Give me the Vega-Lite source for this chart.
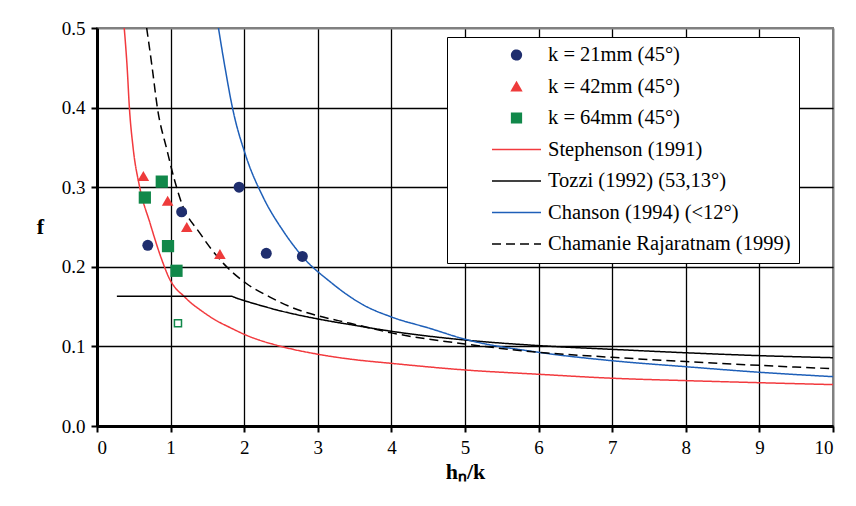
{
  "$schema": "https://vega.github.io/schema/vega-lite/v6.json",
  "width": 736,
  "height": 398,
  "autosize": {"type": "none"},
  "padding": {"left": 97, "top": 28, "right": 23, "bottom": 80},
  "background": "white",
  "config": {
    "font": "Liberation Serif",
    "view": {"stroke": "#808080", "strokeWidth": 2},
    "axis": {
      "labelFont": "Liberation Serif",
      "labelFontSize": 19,
      "labelColor": "black",
      "titleFont": "Liberation Serif",
      "titleColor": "black",
      "titleFontWeight": "bold",
      "titleFontSize": 22,
      "domainColor": "black",
      "domainWidth": 3,
      "tickColor": "black",
      "tickWidth": 2,
      "tickSize": 6,
      "gridWidth": 1.3,
      "gridOpacity": 1
    }
  },
  "data": {
    "values": [
      {"series": "k = 21mm (45°)", "x": 0.69, "y": 0.227},
      {"series": "k = 21mm (45°)", "x": 1.15, "y": 0.269},
      {"series": "k = 21mm (45°)", "x": 1.93, "y": 0.300},
      {"series": "k = 21mm (45°)", "x": 2.30, "y": 0.217},
      {"series": "k = 21mm (45°)", "x": 2.79, "y": 0.213},
      {"series": "k = 42mm (45°)", "x": 0.63, "y": 0.314},
      {"series": "k = 42mm (45°)", "x": 0.96, "y": 0.283},
      {"series": "k = 42mm (45°)", "x": 1.22, "y": 0.250},
      {"series": "k = 42mm (45°)", "x": 1.67, "y": 0.216},
      {"series": "k = 64mm (45°)", "x": 0.88, "y": 0.307},
      {"series": "k = 64mm (45°)", "x": 0.65, "y": 0.287},
      {"series": "k = 64mm (45°)", "x": 0.965, "y": 0.226},
      {"series": "k = 64mm (45°)", "x": 1.08, "y": 0.195},
      {"series": "k = 64mm (45°) open", "x": 1.10, "y": 0.129},
      {"series": "Stephenson (1991)", "x": 0.37, "y": 0.50},
      {"series": "Stephenson (1991)", "x": 0.41, "y": 0.45},
      {"series": "Stephenson (1991)", "x": 0.44, "y": 0.40},
      {"series": "Stephenson (1991)", "x": 0.49, "y": 0.35},
      {"series": "Stephenson (1991)", "x": 0.58, "y": 0.30},
      {"series": "Stephenson (1991)", "x": 0.72, "y": 0.255},
      {"series": "Stephenson (1991)", "x": 0.88, "y": 0.209},
      {"series": "Stephenson (1991)", "x": 0.99, "y": 0.184},
      {"series": "Stephenson (1991)", "x": 1.06, "y": 0.174},
      {"series": "Stephenson (1991)", "x": 1.17, "y": 0.164},
      {"series": "Stephenson (1991)", "x": 1.26, "y": 0.156},
      {"series": "Stephenson (1991)", "x": 1.40, "y": 0.146},
      {"series": "Stephenson (1991)", "x": 1.63, "y": 0.132},
      {"series": "Stephenson (1991)", "x": 1.80, "y": 0.124},
      {"series": "Stephenson (1991)", "x": 2.03, "y": 0.114},
      {"series": "Stephenson (1991)", "x": 2.53, "y": 0.0993},
      {"series": "Stephenson (1991)", "x": 2.98, "y": 0.0905},
      {"series": "Stephenson (1991)", "x": 3.44, "y": 0.084},
      {"series": "Stephenson (1991)", "x": 4, "y": 0.0787},
      {"series": "Stephenson (1991)", "x": 5, "y": 0.0704},
      {"series": "Stephenson (1991)", "x": 6, "y": 0.065},
      {"series": "Stephenson (1991)", "x": 7, "y": 0.060},
      {"series": "Stephenson (1991)", "x": 8, "y": 0.057},
      {"series": "Stephenson (1991)", "x": 9, "y": 0.0544},
      {"series": "Stephenson (1991)", "x": 10, "y": 0.052},
      {"series": "Tozzi (1992) (53,13°)", "x": 0.27, "y": 0.163},
      {"series": "Tozzi (1992) (53,13°)", "x": 1.82, "y": 0.163},
      {"series": "Tozzi (1992) (53,13°)", "x": 1.90, "y": 0.1605},
      {"series": "Tozzi (1992) (53,13°)", "x": 2.00, "y": 0.1575},
      {"series": "Tozzi (1992) (53,13°)", "x": 2.20, "y": 0.152},
      {"series": "Tozzi (1992) (53,13°)", "x": 2.50, "y": 0.1445},
      {"series": "Tozzi (1992) (53,13°)", "x": 3.00, "y": 0.1345},
      {"series": "Tozzi (1992) (53,13°)", "x": 3.50, "y": 0.1265},
      {"series": "Tozzi (1992) (53,13°)", "x": 4, "y": 0.119},
      {"series": "Tozzi (1992) (53,13°)", "x": 5, "y": 0.108},
      {"series": "Tozzi (1992) (53,13°)", "x": 6, "y": 0.101},
      {"series": "Tozzi (1992) (53,13°)", "x": 7, "y": 0.0963},
      {"series": "Tozzi (1992) (53,13°)", "x": 8, "y": 0.092},
      {"series": "Tozzi (1992) (53,13°)", "x": 9, "y": 0.0884},
      {"series": "Tozzi (1992) (53,13°)", "x": 10, "y": 0.0858},
      {"series": "Chanson (1994) (<12°)", "x": 1.65, "y": 0.50},
      {"series": "Chanson (1994) (<12°)", "x": 1.74, "y": 0.45},
      {"series": "Chanson (1994) (<12°)", "x": 1.84, "y": 0.40},
      {"series": "Chanson (1994) (<12°)", "x": 2.02, "y": 0.34},
      {"series": "Chanson (1994) (<12°)", "x": 2.26, "y": 0.287},
      {"series": "Chanson (1994) (<12°)", "x": 2.53, "y": 0.245},
      {"series": "Chanson (1994) (<12°)", "x": 2.80, "y": 0.212},
      {"series": "Chanson (1994) (<12°)", "x": 3.17, "y": 0.181},
      {"series": "Chanson (1994) (<12°)", "x": 3.62, "y": 0.152},
      {"series": "Chanson (1994) (<12°)", "x": 4, "y": 0.137},
      {"series": "Chanson (1994) (<12°)", "x": 4.52, "y": 0.1227},
      {"series": "Chanson (1994) (<12°)", "x": 5, "y": 0.109},
      {"series": "Chanson (1994) (<12°)", "x": 6, "y": 0.0926},
      {"series": "Chanson (1994) (<12°)", "x": 7, "y": 0.082},
      {"series": "Chanson (1994) (<12°)", "x": 8, "y": 0.0745},
      {"series": "Chanson (1994) (<12°)", "x": 9, "y": 0.0675},
      {"series": "Chanson (1994) (<12°)", "x": 10, "y": 0.062},
      {"series": "Chamanie Rajaratnam (1999)", "x": 0.675, "y": 0.50},
      {"series": "Chamanie Rajaratnam (1999)", "x": 0.75, "y": 0.45},
      {"series": "Chamanie Rajaratnam (1999)", "x": 0.82, "y": 0.40},
      {"series": "Chamanie Rajaratnam (1999)", "x": 0.95, "y": 0.347},
      {"series": "Chamanie Rajaratnam (1999)", "x": 1.05, "y": 0.31},
      {"series": "Chamanie Rajaratnam (1999)", "x": 1.15, "y": 0.28},
      {"series": "Chamanie Rajaratnam (1999)", "x": 1.40, "y": 0.242},
      {"series": "Chamanie Rajaratnam (1999)", "x": 1.72, "y": 0.204},
      {"series": "Chamanie Rajaratnam (1999)", "x": 2.03, "y": 0.179},
      {"series": "Chamanie Rajaratnam (1999)", "x": 2.35, "y": 0.162},
      {"series": "Chamanie Rajaratnam (1999)", "x": 2.62, "y": 0.150},
      {"series": "Chamanie Rajaratnam (1999)", "x": 2.98, "y": 0.139},
      {"series": "Chamanie Rajaratnam (1999)", "x": 3.44, "y": 0.129},
      {"series": "Chamanie Rajaratnam (1999)", "x": 4, "y": 0.117},
      {"series": "Chamanie Rajaratnam (1999)", "x": 5, "y": 0.103},
      {"series": "Chamanie Rajaratnam (1999)", "x": 6, "y": 0.0926},
      {"series": "Chamanie Rajaratnam (1999)", "x": 7, "y": 0.0863},
      {"series": "Chamanie Rajaratnam (1999)", "x": 8, "y": 0.081},
      {"series": "Chamanie Rajaratnam (1999)", "x": 9, "y": 0.0762},
      {"series": "Chamanie Rajaratnam (1999)", "x": 10, "y": 0.072}
    ]
  },
  "encoding": {
    "x": {
      "field": "x", "type": "quantitative",
      "scale": {"domain": [0, 10], "nice": false, "zero": false},
      "axis": {
        "title": "hₙ/k",
        "values": [0, 1, 2, 3, 4, 5, 6, 7, 8, 9, 10],
        "format": "d",
        "labelPadding": 6,
        "titlePadding": 4,
        "gridColor": {"condition": {"test": "datum.value >= 10", "value": "#808080"}, "value": "black"},
        "gridWidth": {"condition": {"test": "datum.value >= 10", "value": 2}, "value": 1.3}
      }
    },
    "y": {
      "field": "y", "type": "quantitative",
      "scale": {"domain": [0, 0.5], "nice": false},
      "axis": {
        "title": "f",
        "values": [0, 0.1, 0.2, 0.3, 0.4, 0.5],
        "format": ".1f",
        "labelPadding": 6,
        "titleAngle": 0,
        "titleAlign": "center",
        "titleBaseline": "middle",
        "titleX": -57,
        "titleY": 198,
        "gridColor": {"condition": {"test": "datum.value >= 0.5", "value": "#808080"}, "value": "black"},
        "gridWidth": {"condition": {"test": "datum.value >= 0.5", "value": 2}, "value": 1.3}
      }
    }
  },
  "layer": [
    {
      "transform": [{"filter": {"field": "series", "oneOf": ["Stephenson (1991)", "Tozzi (1992) (53,13°)", "Chanson (1994) (<12°)", "Chamanie Rajaratnam (1999)"]}}],
      "mark": {"type": "line", "strokeWidth": 1.5, "interpolate": "monotone", "clip": true},
      "encoding": {
        "color": {
          "field": "series", "type": "nominal",
          "scale": {
            "domain": ["k = 21mm (45°)", "k = 42mm (45°)", "k = 64mm (45°)", "Stephenson (1991)", "Tozzi (1992) (53,13°)", "Chanson (1994) (<12°)", "Chamanie Rajaratnam (1999)"],
            "range": ["#1F2E6E", "#EE3B3B", "#11884A", "#F23A3E", "#000000", "#1E5FB8", "#000000"]
          },
          "legend": {
            "title": null,
            "orient": "none",
            "legendX": 350,
            "legendY": 9,
            "strokeColor": "black",
            "fillColor": "white",
            "padding": 8,
            "symbolOffset": 36,
            "labelOffset": 6,
            "labelFont": "Liberation Serif",
            "labelFontSize": 20.5,
            "labelColor": "black",
            "labelLimit": 500,
            "clipHeight": 20,
            "rowPadding": 10.5,
            "symbolSize": 2400,
            "symbolStrokeWidth": 1.5,
            "encode": {
              "symbols": {
                "update": {
                  "fill": {"scale": "color", "field": "value"},
                  "stroke": {"scale": "color", "field": "value"},
                  "shape": {"scale": "shape", "field": "value"},
                  "strokeDash": {"scale": "strokeDash", "field": "value"},
                  "strokeWidth": {"value": 1.5},
                  "size": {"signal": "indexof(['k = 21mm (45°)','k = 42mm (45°)','k = 64mm (45°)'], datum.value) >= 0 ? 95 : 2400"}
                }
              }
            }
          }
        },
        "strokeDash": {
          "field": "series", "type": "nominal",
          "scale": {
            "domain": ["k = 21mm (45°)", "k = 42mm (45°)", "k = 64mm (45°)", "Stephenson (1991)", "Tozzi (1992) (53,13°)", "Chanson (1994) (<12°)", "Chamanie Rajaratnam (1999)"],
            "range": [[1, 0], [1, 0], [1, 0], [1, 0], [1, 0], [1, 0], [9, 5]]
          },
          "legend": null
        }
      }
    },
    {
      "transform": [{"filter": {"field": "series", "oneOf": ["k = 21mm (45°)", "k = 42mm (45°)", "k = 64mm (45°)"]}}],
      "mark": {"type": "point", "filled": true, "opacity": 1},
      "encoding": {
        "color": {"field": "series", "type": "nominal"},
        "shape": {
          "field": "series", "type": "nominal",
          "scale": {
            "domain": ["k = 21mm (45°)", "k = 42mm (45°)", "k = 64mm (45°)", "Stephenson (1991)", "Tozzi (1992) (53,13°)", "Chanson (1994) (<12°)", "Chamanie Rajaratnam (1999)"],
            "range": ["circle", "triangle-up", "square", "stroke", "stroke", "stroke", "stroke"]
          },
          "legend": null
        },
        "size": {
          "field": "series", "type": "nominal",
          "scale": {
            "domain": ["k = 21mm (45°)", "k = 42mm (45°)", "k = 64mm (45°)"],
            "range": [120, 150, 130]
          },
          "legend": null
        }
      }
    },
    {
      "transform": [{"filter": {"field": "series", "equal": "k = 64mm (45°) open"}}],
      "mark": {"type": "square", "filled": false, "color": "#11884A", "size": 50, "strokeWidth": 1.5, "opacity": 1}
    }
  ]
}
